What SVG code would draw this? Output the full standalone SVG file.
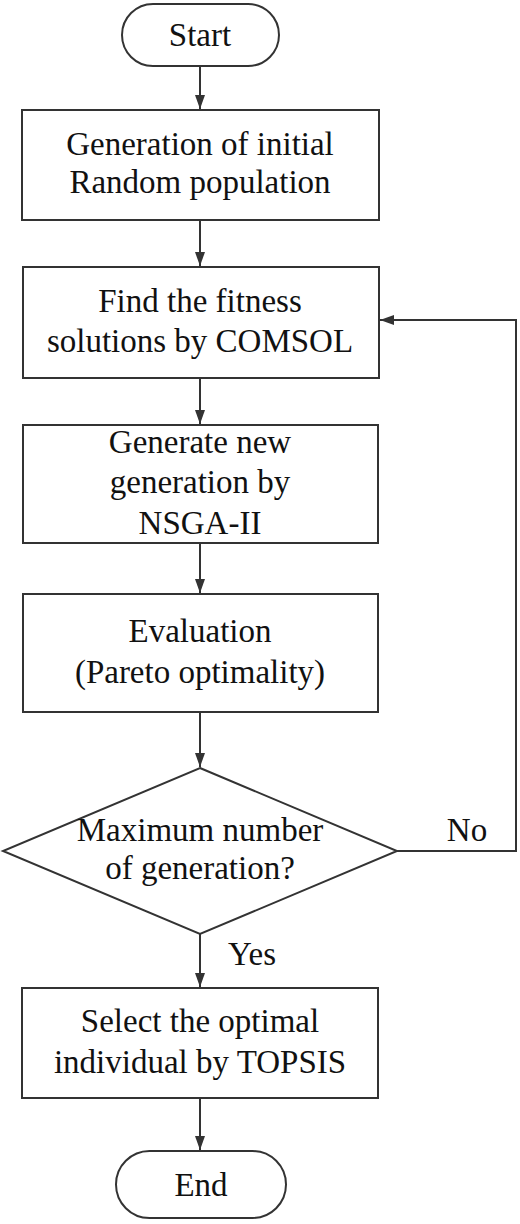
<svg xmlns="http://www.w3.org/2000/svg" width="520" height="1224" viewBox="0 0 520 1224">
<style>
.s{fill:#fff;stroke:#333;stroke-width:2}
.t{font-size:33px;fill:#111;text-anchor:middle}
.c{fill:none;stroke:#333;stroke-width:2}
</style>
<defs>
<marker id="av" markerWidth="14" markerHeight="14" refX="14" refY="7" orient="auto" markerUnits="userSpaceOnUse" viewBox="0 0 14 14">
<path d="M0,2 L14,7 L0,12 Z" fill="#333"/>
</marker>
</defs>
<rect width="520" height="1224" fill="#fff"/>
<g id="connectors">
<line class="c" x1="200" y1="66" x2="200" y2="109" marker-end="url(#av)"/>
<line class="c" x1="200" y1="220" x2="200" y2="266" marker-end="url(#av)"/>
<line class="c" x1="200" y1="378" x2="200" y2="424" marker-end="url(#av)"/>
<line class="c" x1="200" y1="543" x2="200" y2="593" marker-end="url(#av)"/>
<line class="c" x1="200" y1="712" x2="200" y2="767" marker-end="url(#av)"/>
<line class="c" x1="200" y1="934" x2="200" y2="987" marker-end="url(#av)"/>
<line class="c" x1="200" y1="1098" x2="200" y2="1150" marker-end="url(#av)"/>
<polyline class="c" points="397,851 516,851 516,320 380,320" marker-end="url(#av)"/>
<text class="t" x="467" y="841" font-family="'Liberation Serif', serif">No</text>
<text class="t" x="252" y="965" font-family="'Liberation Serif', serif">Yes</text>
</g>
<g id="start">
<rect class="s" x="122" y="4" width="157" height="62" rx="31"/>
<text class="t" x="200" y="46" font-family="'Liberation Serif', serif">Start</text>
</g>
<g id="init">
<rect class="s" x="22" y="110" width="357" height="110"/>
<text class="t" x="200" y="155" font-family="'Liberation Serif', serif">Generation of initial</text>
<text class="t" x="200" y="193" font-family="'Liberation Serif', serif">Random population</text>
</g>
<g id="fitness">
<rect class="s" x="23" y="267" width="356" height="111"/>
<text class="t" x="200" y="312" font-family="'Liberation Serif', serif">Find the fitness</text>
<text class="t" x="200" y="352" font-family="'Liberation Serif', serif">solutions by COMSOL</text>
</g>
<g id="nsga">
<rect class="s" x="23" y="425" width="355" height="118"/>
<text class="t" x="200" y="453" font-family="'Liberation Serif', serif">Generate new</text>
<text class="t" x="200" y="493" font-family="'Liberation Serif', serif">generation by</text>
<text class="t" x="200" y="534" font-family="'Liberation Serif', serif">NSGA-II</text>
</g>
<g id="eval">
<rect class="s" x="23" y="594" width="355" height="118"/>
<text class="t" x="200" y="642" font-family="'Liberation Serif', serif">Evaluation</text>
<text class="t" x="200" y="683" font-family="'Liberation Serif', serif">(Pareto optimality)</text>
</g>
<g id="decision">
<polygon class="s" points="200,768 397,851 200,934 3,851"/>
<text class="t" x="200" y="841" font-family="'Liberation Serif', serif">Maximum number</text>
<text class="t" x="200" y="879" font-family="'Liberation Serif', serif">of generation?</text>
</g>
<g id="topsis">
<rect class="s" x="22" y="988" width="356" height="110"/>
<text class="t" x="200" y="1032" font-family="'Liberation Serif', serif">Select the optimal</text>
<text class="t" x="200" y="1073" font-family="'Liberation Serif', serif">individual by TOPSIS</text>
</g>
<g id="end">
<rect class="s" x="116" y="1151" width="170" height="67" rx="33.5"/>
<text class="t" x="201" y="1196" font-family="'Liberation Serif', serif">End</text>
</g>
</svg>
